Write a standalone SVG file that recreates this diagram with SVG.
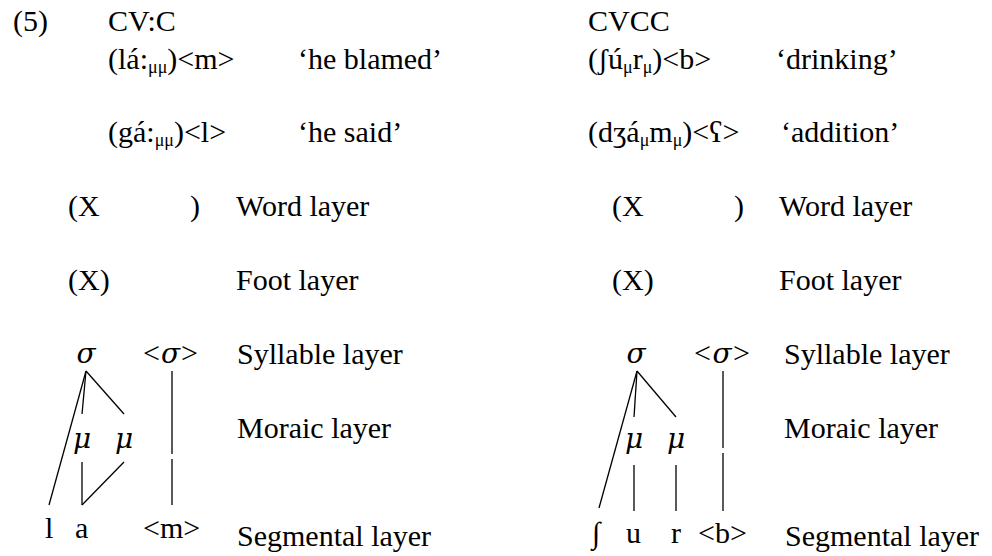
<svg xmlns="http://www.w3.org/2000/svg" width="992" height="556" viewBox="0 0 992 556">
<style>
text{font-family:"Liberation Serif","Times New Roman",serif;font-size:30px;fill:#000}
.g{font-family:"DejaVu Serif",serif;font-style:italic;font-size:28px}
.sub{font-size:18px}
line{stroke:#000;stroke-width:1.3;fill:none}
</style>
<rect width="992" height="556" fill="#fff"/>
<g id="header-left">
<text x="13" y="31">(5)</text>
<text x="108" y="31">CV:C</text>
<text x="108" y="69">(lá:<tspan class="sub" dy="4">μμ</tspan><tspan dy="-4">)&lt;m&gt;</tspan></text>
<text x="298" y="69">‘he blamed’</text>
<text x="108" y="142">(gá:<tspan class="sub" dy="4">μμ</tspan><tspan dy="-4">)&lt;l&gt;</tspan></text>
<text x="298" y="142">‘he said’</text>
</g>
<g id="header-right">
<text x="588" y="31">CVCC</text>
<text x="588" y="69">(ʃú<tspan class="sub" dy="4">μ</tspan><tspan dy="-4">r</tspan><tspan class="sub" dy="4">μ</tspan><tspan dy="-4">)&lt;b&gt;</tspan></text>
<text x="776" y="69">‘drinking’</text>
<text x="588" y="142">(dʒá<tspan class="sub" dy="4">μ</tspan><tspan dy="-4">m</tspan><tspan class="sub" dy="4">μ</tspan><tspan dy="-4">)&lt;ʕ&gt;</tspan></text>
<text x="781" y="142">‘addition’</text>
</g>
<g id="layers-left">
<text x="68" y="216">(X</text>
<text x="190" y="216">)</text>
<text x="236" y="216">Word layer</text>
<text x="68" y="290">(X)</text>
<text x="236" y="290">Foot layer</text>
<text x="237" y="364">Syllable layer</text>
<text x="237" y="438">Moraic layer</text>
<text x="237" y="546">Segmental layer</text>
</g>
<g id="layers-right">
<text x="612" y="216">(X</text>
<text x="734" y="216">)</text>
<text x="779" y="216">Word layer</text>
<text x="612" y="290">(X)</text>
<text x="779" y="290">Foot layer</text>
<text x="784" y="364">Syllable layer</text>
<text x="784" y="438">Moraic layer</text>
<text x="785" y="546">Segmental layer</text>
</g>
<g id="tree-left">
<text class="g" x="86" y="363" text-anchor="middle">σ</text>
<text x="143" y="363" textLength="55" lengthAdjust="spacing">&lt;<tspan class="g">σ</tspan>&gt;</text>
<text class="g" x="82" y="448" text-anchor="middle">μ</text>
<text class="g" x="124" y="448" text-anchor="middle">μ</text>
<text x="45" y="538">l</text>
<text x="75" y="538">a</text>
<text x="143" y="538">&lt;m&gt;</text>
</g>
<g id="tree-right">
<text class="g" x="636" y="363" text-anchor="middle">σ</text>
<text x="694" y="363" textLength="56" lengthAdjust="spacing">&lt;<tspan class="g">σ</tspan>&gt;</text>
<text class="g" x="634" y="448" text-anchor="middle">μ</text>
<text class="g" x="676" y="448" text-anchor="middle">μ</text>
<text x="592" y="543">∫</text>
<text x="626" y="543">u</text>
<text x="671" y="543">r</text>
<text x="698" y="543">&lt;b&gt;</text>
</g>
<g id="connectors">
<line x1="86" y1="371" x2="49" y2="505"/>
<line x1="86" y1="371" x2="82" y2="414"/>
<line x1="86" y1="371" x2="124" y2="414"/>
<line x1="82" y1="462" x2="82" y2="505"/>
<line x1="124" y1="462" x2="82" y2="505"/>
<line x1="172" y1="371" x2="172" y2="454"/>
<line x1="172" y1="459" x2="172" y2="505"/>
<line x1="637" y1="371" x2="599" y2="508"/>
<line x1="637" y1="371" x2="634" y2="417"/>
<line x1="637" y1="371" x2="676" y2="417"/>
<line x1="634" y1="465" x2="634" y2="511"/>
<line x1="676" y1="465" x2="676" y2="511"/>
<line x1="723" y1="371" x2="723" y2="448"/>
<line x1="723" y1="453" x2="723" y2="511"/>
</g>
</svg>
